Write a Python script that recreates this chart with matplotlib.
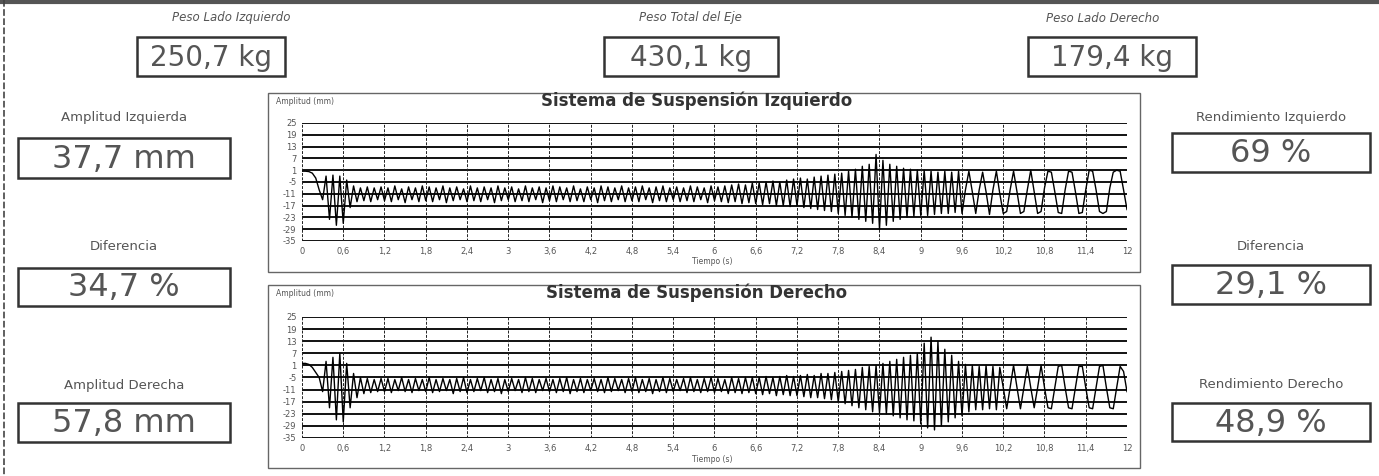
import numpy as np
import matplotlib
matplotlib.use("Agg")
import matplotlib.pyplot as plt
from matplotlib.patches import Rectangle

W, H = 1379, 476

# valores del informe
peso_izq = 250.7
peso_total = 430.1
peso_der = 179.4
amplitud_izq = 37.7
amplitud_der = 57.8
diferencia_izq = 34.7
diferencia_der = 29.1
rend_izq = 69
rend_der = 48.9

# ejes de los graficos
y_ticks = [25, 19, 13, 7, 1, -5, -11, -17, -23, -29, -35]
x_ticks = [0, 0.6, 1.2, 1.8, 2.4, 3, 3.6, 4.2, 4.8, 5.4, 6, 6.6, 7.2, 7.8, 8.4, 9, 9.6, 10.2, 10.8, 11.4, 12]
x_labels = ["0", "0,6", "1,2", "1,8", "2,4", "3", "3,6", "4,2", "4,8", "5,4", "6", "6,6",
            "7,2", "7,8", "8,4", "9", "9,6", "10,2", "10,8", "11,4", "12"]

dt = 0.05  # muestreo de la curva (s)

# amplitud (mm) suspension izquierda, una muestra cada 0,05 s
amp_izq = [
    0.5, 0.5, 0.3, -0.5, -3, -9, -14, -2, -24, -1.5, -27, -2,
    -26, -4, -18, -7, -15, -8, -14.5, -7.5, -15, -8, -14, -7.5,
    -14.5, -8, -15, -7, -14, -8.5, -15.5, -7.5, -14, -8, -15, -7,
    -14.5, -7.5, -15, -8, -14, -7, -15.5, -8, -14.5, -7.5, -14, -8.5,
    -15, -7, -14.5, -8, -15, -7.5, -14, -8, -15.5, -7, -14.5, -8,
    -14, -7.5, -15, -8.5, -14.5, -7, -15, -8, -14, -7.5, -15.5, -8,
    -14.5, -7, -15, -7.5, -14, -8, -15, -7, -14.5, -8.5, -15, -7.5,
    -14, -8, -15.5, -7, -14.5, -7.5, -15, -8, -14, -7, -15, -8,
    -14.5, -7.5, -15, -7, -14, -8, -15.5, -7.5, -14.5, -7, -15, -8,
    -14, -7.5, -15, -8, -14.5, -7, -15, -7.5, -14, -8, -15.5, -7,
    -14.5, -7.5, -15, -7, -15.5, -6.5, -15, -6, -16, -6.5, -15.5, -5.5,
    -16, -5.5, -16.5, -5, -16, -4.5, -17, -5, -17, -4, -17.5, -3.5,
    -17, -3, -18, -3.5, -18.5, -2.5, -19, -2, -19.5, -1.5, -20, -1,
    -21, -0.5, -22, 0.5, -23, 1.5, -24, 3, -25, 4, -26, 9,
    -29, 6, -27, 4, -25, 3, -24, 2, -23, 1.5, -22.5, 1,
    -22, 1, -22, 0.5, -21.5, 0, -21, 0.5, -21, 0, -20.5, 0.5,
    -21, -9, 0.5, -10, -21, -9, 0, -10, -21.5, -9, 0.5, -11,
    -21, -20, -9, 0.5, -10, -21, -20, -9, 1, -10, -21, -20,
    -8, 0.5, 0, -10, -20.5, -21, -9, 0.5, 0, -10, -21, -20.5,
    -9, 1, 0.5, -9, -20, -21, -20, -8, 0, 1, 0.5, -9,
    -19,
]

# amplitud (mm) suspension derecha
amp_der = [
    2, 2, 1.5, 0, -2.5, -5, -12, 3, -20, 5, -26, 7,
    -27, 2, -20, -3, -15, -5, -13, -5.5, -12.5, -6, -12, -5.5,
    -12, -5.5, -12.5, -6, -11.5, -5, -12, -6, -12.5, -5.5, -11.5, -6,
    -12, -5, -12.5, -6, -12, -5.5, -11.5, -6, -13, -5.5, -12, -5,
    -12.5, -6, -12, -5.5, -11.5, -5, -12.5, -6, -12, -5.5, -13, -6,
    -12, -5.5, -11.5, -6, -12.5, -5, -12, -5.5, -12.5, -6, -11.5, -5.5,
    -12, -6, -12.5, -5.5, -12, -5, -13, -6, -12, -5.5, -12.5, -6,
    -11.5, -5.5, -12, -6, -12.5, -5, -12, -5.5, -11.5, -6, -12.5, -5.5,
    -12, -5, -12.5, -6, -12, -5.5, -13, -6, -12, -5, -12.5, -5.5,
    -12, -6, -11.5, -5.5, -12.5, -5, -12, -6, -12.5, -5.5, -12, -5,
    -12.5, -5.5, -12, -6, -13, -5, -12.5, -5.5, -13, -5, -12.5, -5,
    -13, -5, -13.5, -4.5, -13, -5, -14, -4.5, -13.5, -4, -14, -4.5,
    -14, -4, -14.5, -3.5, -15, -4, -15, -3, -15.5, -3, -16, -2.5,
    -17, -2, -18, -1.5, -19, -1, -20, 0, -21, 0.5, -22, 1,
    -22.5, 2, -23, 3, -24, 4, -25, 5, -26, 6, -26.5, 7,
    -28, 12, -30, 15, -31, 13, -29, 9, -27, 6, -25, 3,
    -24, 1.5, -22, 1, -21, 0.5, -21, 1, -20.5, 0.5, -21, 0,
    -10, -20.5, -10, 1, -10, -20.5, -10, 0.5, -10, -20, -10, 1,
    -10, -20, -20.5, -10, 0.5, 1, -10, -20, -20.5, -10, 0.5, 0.5,
    -10, -20, -20.5, -10, 0.5, 1, -10, -20, -20.5, -10, 0.5, -2,
    -12,
]


def coma(v, dec=1):
    return f"{v:.{dec}f}".replace(".", ",")


fig = plt.figure(figsize=(W / 100, H / 100), dpi=100)
fig.patch.set_facecolor("white")

# capa de fondo en pixeles
bg = fig.add_axes([0, 0, 1, 1])
bg.set_xlim(0, W)
bg.set_ylim(H, 0)
bg.axis("off")

# borde del escaneo
bg.plot([0, W], [2, 2], color="#555", lw=3)
bg.plot([4, 4], [0, H], color="#444", lw=1.2, ls=(0, (4, 1.5)))


def caja(x0, x1, y0, y1, texto, rotulo, ry, fs=20):
    bg.add_patch(Rectangle((x0, y0), x1 - x0, y1 - y0, fill=False, ec="#333", lw=1.8))
    bg.text((x0 + x1) / 2, (y0 + y1) / 2 + 1, texto, ha="center", va="center",
            fontsize=fs, color="#555")
    if rotulo:
        bg.text((x0 + x1) / 2, ry, rotulo, ha="center", va="center", fontsize=9.5, color="#555")


# pesos arriba
caja(137, 285, 37, 76, coma(peso_izq) + " kg", "", 18)
caja(604, 778, 37, 76, coma(peso_total) + " kg", "", 18)
caja(1028, 1196, 37, 76, coma(peso_der) + " kg", "", 18)
for x, s in [(231, "Peso Lado Izquierdo"), (690, "Peso Total del Eje"), (1103, "Peso Lado Derecho")]:
    bg.text(x, 18, s, ha="center", va="center", fontsize=8.5, style="italic", color="#555")

# columna izquierda
caja(18, 230, 138, 178, coma(amplitud_izq) + " mm", "Amplitud Izquierda", 118, fs=23)
caja(18, 230, 268, 306, coma(diferencia_izq) + " %", "Diferencia", 247, fs=23)
caja(18, 230, 403, 442, coma(amplitud_der) + " mm", "Amplitud Derecha", 385, fs=23)

# columna derecha
caja(1172, 1370, 133, 172, f"{rend_izq} %", "Rendimiento Izquierdo", 118, fs=23)
caja(1172, 1370, 265, 304, coma(diferencia_der) + " %", "Diferencia", 247, fs=23)
caja(1172, 1370, 403, 441, coma(rend_der) + " %", "Rendimiento Derecho", 385, fs=23)


def grafico(fy0, fy1, ay0, ay1, titulo, valores):
    bg.add_patch(Rectangle((268, fy0), 872, fy1 - fy0, fill=False, ec="#666", lw=1.0))
    bg.text(697, fy0 + 8, titulo, ha="center", va="center", fontsize=12,
            fontweight="bold", color="#333")
    bg.text(276, fy0 + 8, "Amplitud (mm)", ha="left", va="center", fontsize=5.5, color="#555")
    bg.text(712, ay1 + 21, "Tiempo (s)", ha="center", va="center", fontsize=5.5, color="#555")

    ax = fig.add_axes([302 / W, 1 - ay1 / H, 825 / W, (ay1 - ay0) / H])
    ax.set_facecolor("none")
    t = np.arange(len(valores)) * dt
    ax.plot(t, valores, color="black", lw=1.0, zorder=3)
    for v in y_ticks:
        ax.axhline(v, color="#111", lw=1.4, zorder=2)
    for x in x_ticks:
        ax.axvline(x, color="#222", lw=0.7, ls=(0, (3, 1.5)), zorder=2)
    ax.set_xlim(0, 12)
    ax.set_ylim(-35, 25)
    ax.set_yticks(y_ticks)
    ax.set_yticklabels([str(v) for v in y_ticks])
    ax.set_xticks(x_ticks)
    ax.set_xticklabels(x_labels)
    ax.tick_params(length=0, labelsize=6, colors="#555", pad=4)
    for s in ax.spines.values():
        s.set_visible(False)
    return ax


grafico(93, 272, 123, 241, "Sistema de Suspensión Izquierdo", amp_izq)
grafico(285, 468, 317, 438, "Sistema de Suspensión Derecho", amp_der)

fig.savefig("out.png", dpi=100, facecolor="white")
